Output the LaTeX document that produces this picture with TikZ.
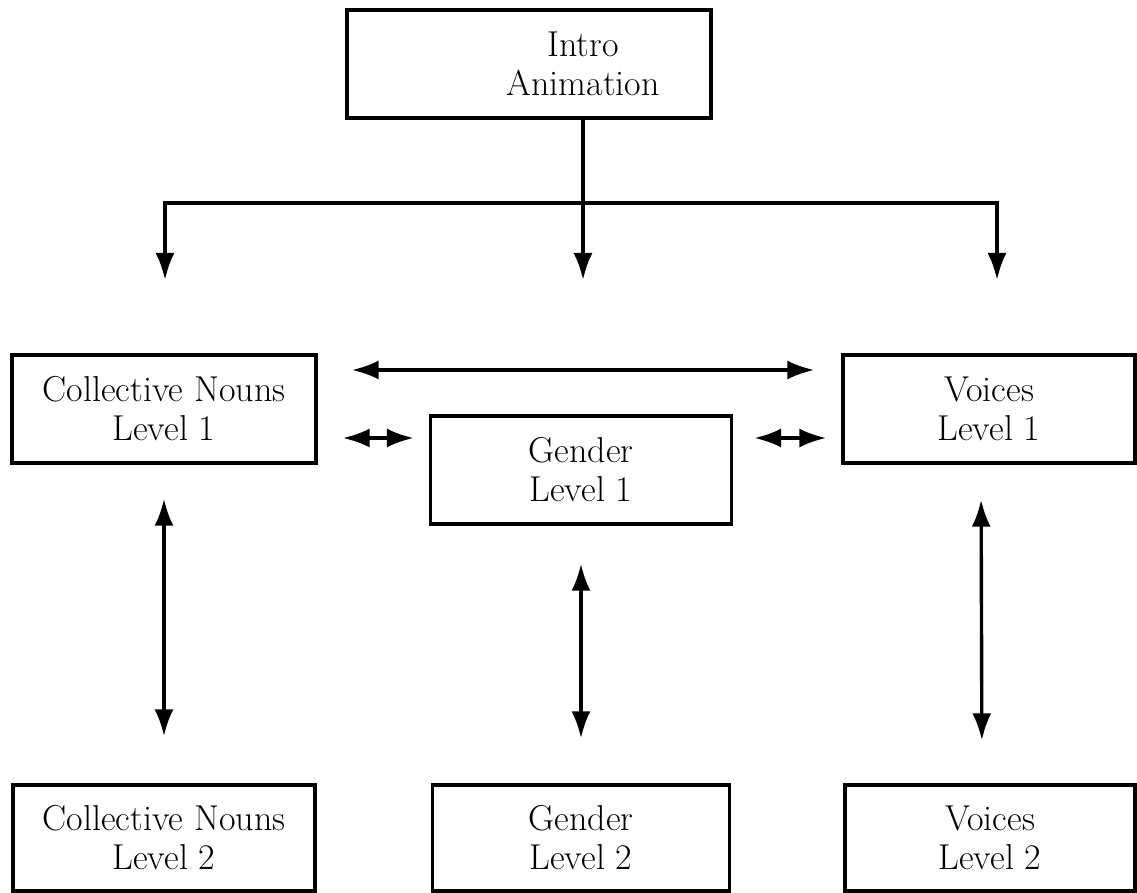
\documentclass[tikz,border=0pt]{standalone}
\usetikzlibrary{arrows.meta}
\begin{document}
\begin{tikzpicture}[x=1pt, y=-1pt, line width=3.4pt,
    lvl/.style={draw, rectangle, align=center, minimum height=108pt, font=\fontsize{36}{39}\selectfont},
    tip/.style={-{Latex[length=27pt,width=19pt]}},
    dbl/.style={{Latex[length=27pt,width=19pt]}-{Latex[length=27pt,width=19pt]}}]
\useasboundingbox (0,0) rectangle (1137,893);

    % top
    \node (intro) at (529,64) [lvl, minimum width=364pt] {};
    \node (introtxt) at (583,64) [align=center, font=\fontsize{36}{39}\selectfont] {Intro\\Animation};

    \coordinate (split) at (583,203);
    \coordinate (cnin) at (165,280);
    \coordinate (genin) at (583,280);
    \coordinate (voin) at (997,280);

    \draw[tip] (split) -| (cnin);
    \draw[tip] (split) -| (voin);
    \draw[tip] (intro.south -| introtxt) -- (genin);

    % level 1
    \node (cn1) at (164,409) [lvl, minimum width=304pt] {Collective Nouns\\Level 1};
    \node (gen1) at (581,470) [lvl, minimum width=301pt] {Gender\\Level 1};
    \node (voi1) at (989,409) [lvl, minimum width=292pt] {Voices\\Level 1};

    % level 2
    \node (cn2) at (164,838) [lvl, minimum width=302pt, minimum height=106pt] {Collective Nouns\\Level 2};
    \node (gen2) at (581,838) [lvl, minimum width=297pt, minimum height=106pt] {Gender\\Level 2};
    \node (voi2) at (990,838) [lvl, minimum width=290pt, minimum height=106pt] {Voices\\Level 2};

    \coordinate (gl) at ([yshift=32pt]gen1.west);
    \coordinate (gr) at ([yshift=32pt]gen1.east);

    \draw[dbl, shorten <=34pt, shorten >=27pt] ([yshift=39pt]cn1.east) -- ([yshift=39pt]voi1.west);
    \draw[dbl, shorten <=25pt, shorten >=15pt] (cn1.east |- gl) -- (gl);
    \draw[dbl, shorten <=21pt, shorten >=15pt] (gr) -- (voi1.west |- gr);

    \draw[dbl, shorten <=34pt, shorten >=47pt] (cn1.south) -- (cn2.north);
    \draw[dbl, shorten <=38pt, shorten >=45pt] (gen1.south) -- (gen2.north);
    \draw[dbl, shorten <=35pt, shorten >=43pt] ([xshift=-8pt]voi1.south) -- ([xshift=-8pt]voi2.north);

\end{tikzpicture}
\end{document}
